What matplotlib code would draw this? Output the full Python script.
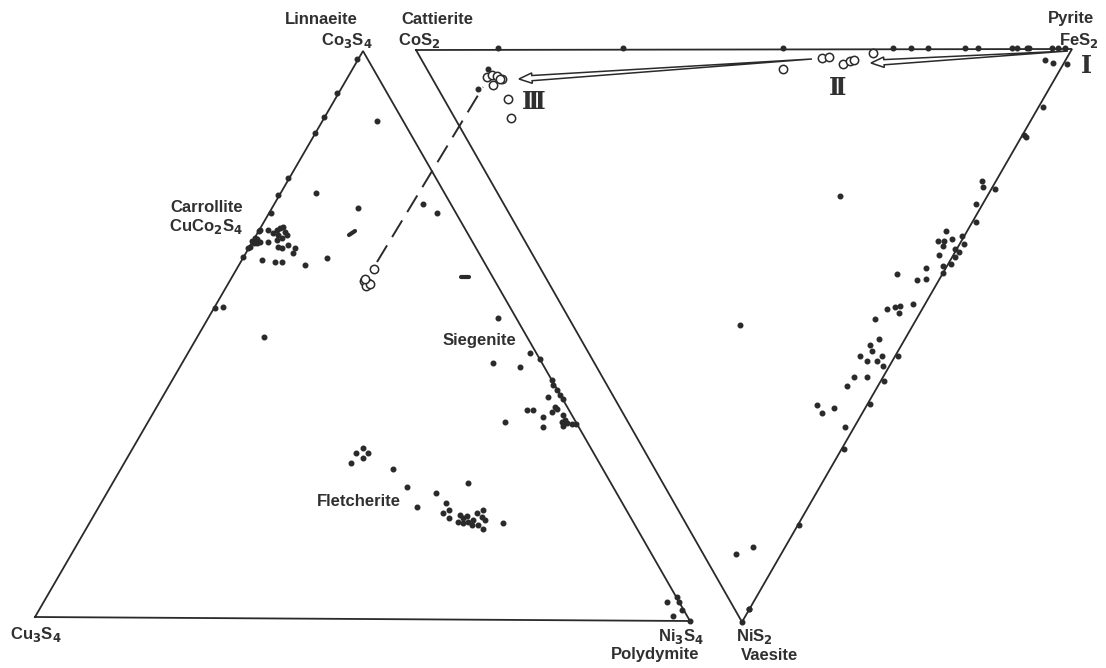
import matplotlib
matplotlib.use("Agg")
import matplotlib.pyplot as plt
from matplotlib.patches import Polygon
import numpy as np

# ---- diagram frame (drawing units: x to the right, y downward) ----
left_tri = {"Cu3S4": (35, 617), "Co3S4": (363, 51), "Ni3S4": (690, 621)}
right_tri = {"CoS2": (416, 50), "FeS2": (1072, 49), "NiS2": (742, 622)}

# ---- analyses: filled dots ----
dots_x = [
    # top join CoS2-FeS2
    498, 623, 783, 893, 911, 928, 965, 978, 1012, 1017, 1027, 1029, 1052, 1058, 1065,
    1045, 1053, 1067, 1043, 1024, 1026,
    # FeS2-NiS2 series
    840, 982, 983, 995, 976, 976, 946, 938, 944, 952, 962, 943, 964, 955, 959, 939, 955,
    951, 943, 926, 943, 897, 917, 926, 887, 895, 900, 899, 913, 875, 879, 870,
    872, 860, 867, 877, 882, 883, 898, 854, 867, 884, 847, 870, 817, 834, 822, 845,
    844, 799, 736, 753, 749, 740,
    # Co3S4-Cu3S4 join and carrollite field
    357, 337, 324, 315, 288, 278, 271, 259, 377, 316, 358, 423, 437,
    252, 255, 257, 260, 257, 254, 250, 260, 268, 273, 277, 280, 283, 285, 278, 282,
    287, 277, 268, 278, 282, 288, 295, 293, 262, 275, 282, 305, 327, 243, 248,
    223, 215, 264,
    # siegenite field
    530, 540, 493, 520, 552, 553, 557, 560, 548, 563, 527, 533, 555, 557, 552, 543,
    563, 505, 543, 562, 563, 567, 572, 576, 565, 498,
    # fletcherite field
    351, 356, 363, 368, 363, 393, 407, 436, 468, 417, 446, 449, 443, 449, 460, 463,
    467, 458, 468, 473, 477, 483, 482, 485, 478, 483, 472, 463, 503,
    # near polydymite / vaesite
    667, 677, 679, 682, 673, 690, 749, 742,
    # near III
    488, 478,
]
dots_y = [
    48, 48, 48, 48, 48, 48, 48, 48, 48, 48, 48, 48, 48, 48, 48,
    60, 63, 64, 107, 135, 137,
    196, 181, 187, 189, 204, 222, 231, 241, 241, 239, 236, 246, 244, 249, 252, 255, 257,
    264, 266, 268, 273, 274, 280, 279, 309, 307, 306, 313, 304, 319, 339, 345,
    351, 356, 361, 361, 356, 366, 356, 377, 377, 381, 386, 404, 405, 408, 413, 427,
    449, 525, 554, 547, 609, 325,
    59, 93, 117, 133, 178, 195, 213, 231, 121, 193, 208, 204, 213,
    241, 238, 239, 242, 243, 243, 247, 230, 230, 233, 230, 228, 227, 232, 235, 238,
    235, 240, 242, 247, 248, 245, 248, 253, 260, 262, 262, 265, 258, 257, 248,
    307, 308, 337,
    353, 359, 363, 367, 380, 385, 390, 395, 397, 399, 410, 410, 407, 409, 412, 417,
    415, 422, 427, 422, 426, 423, 424, 424, 420, 318,
    463, 453, 448, 453, 458, 469, 487, 493, 483, 507, 503, 510, 513, 518, 515, 518,
    516, 522, 522, 520, 513, 510, 517, 520, 525, 529, 525, 523, 523,
    602, 597, 602, 610, 616, 621, 609, 622,
    69, 89,
]

# ---- open circles: zones I-III ----
circ_x = [822, 829, 843, 850, 854, 873, 783,
          487, 492, 497, 502, 493, 500, 508, 511,
          364, 368, 366, 370, 365, 374]
circ_y = [58, 57, 64, 61, 60, 53, 69,
          77, 75, 76, 79, 85, 79, 99, 118,
          281, 283, 286, 284, 279, 269]

# ---- short bar marks ----
bars = [((349, 235), (355, 231)), ((461, 277), (469, 277))]

# ---- trend arrows (tail, tip) and connecting dashed trace ----
arrow_II = ((1068, 51), (871, 63))
arrow_III = ((812, 59), (519, 79))
trace = ((377, 262), (483, 87))

# ---- labels ----
labels = [
    ("Linnaeite", 321, 19), (r"Co$_\mathbf{3}$S$_\mathbf{4}$", 347, 40),
    ("Cattierite", 437, 19), (r"CoS$_\mathbf{2}$", 419, 40),
    ("Pyrite", 1071, 19), (r"FeS$_\mathbf{2}$", 1079, 40),
    ("Carrollite", 207, 207), (r"CuCo$_\mathbf{2}$S$_\mathbf{4}$", 206, 226),
    ("Siegenite", 479, 341), ("Fletcherite", 359, 502),
    (r"Cu$_\mathbf{3}$S$_\mathbf{4}$", 36, 634),
    (r"Ni$_\mathbf{3}$S$_\mathbf{4}$", 681, 636), ("Polydymite", 655, 655),
    (r"NiS$_\mathbf{2}$", 754, 636), ("Vaesite", 770, 655),
]
numerals = [("Ⅰ", 1086, 66), ("Ⅱ", 838, 88), ("Ⅲ", 534, 102)]

INK = "#2a2a2a"

fig = plt.figure(figsize=(11.06, 6.68), dpi=100)
ax = fig.add_axes([0, 0, 1, 1])
ax.set_xlim(0, 1106)
ax.set_ylim(668, 0)
ax.axis("off")

for tri in (left_tri, right_tri):
    pts = list(tri.values())
    xs = [p[0] for p in pts] + [pts[0][0]]
    ys = [p[1] for p in pts] + [pts[0][1]]
    ax.plot(xs, ys, color=INK, lw=1.3, solid_joinstyle="miter", zorder=1)

(tx0, ty0), (tx1, ty1) = trace
ax.plot([tx0, tx1], [ty0, ty1], color=INK, lw=1.4, dashes=(10, 5), zorder=1)

for (x0, y0), (x1, y1) in bars:
    ax.plot([x0, x1], [y0, y1], color=INK, lw=3.0, solid_capstyle="round", zorder=3)

ax.plot(dots_x, dots_y, "o", ms=3.3, color=INK, mec=INK, zorder=3)
ax.plot(circ_x, circ_y, "o", ms=6.0, mfc="white", mec=INK, mew=1.1, zorder=4)


def hollow_arrow(tail, tip, shaft=2.6, head=5.2, head_len=13):
    t = np.array(tail, float)
    p = np.array(tip, float)
    d = p - t
    d /= np.hypot(*d)
    n = np.array([-d[1], d[0]])
    base = p - d * head_len
    shape = [t, base + n * shaft, base + n * head, p,
             base - n * head, base - n * shaft]
    ax.add_patch(Polygon(shape, closed=True, fc="white", ec=INK, lw=1.1, zorder=5))


hollow_arrow(*arrow_II)
hollow_arrow(*arrow_III)

for txt, x, y in labels:
    ax.text(x, y, txt, ha="center", va="center", fontsize=12, fontweight="bold",
            color="#303030", family=["Liberation Sans", "DejaVu Sans"])

for txt, x, y in numerals:
    ax.text(x, y, txt, ha="center", va="center", fontsize=17, fontweight="bold",
            color="#303030", family=["DejaVu Serif", "DejaVu Sans"])

fig.savefig("out.png", dpi=100, facecolor="white")
